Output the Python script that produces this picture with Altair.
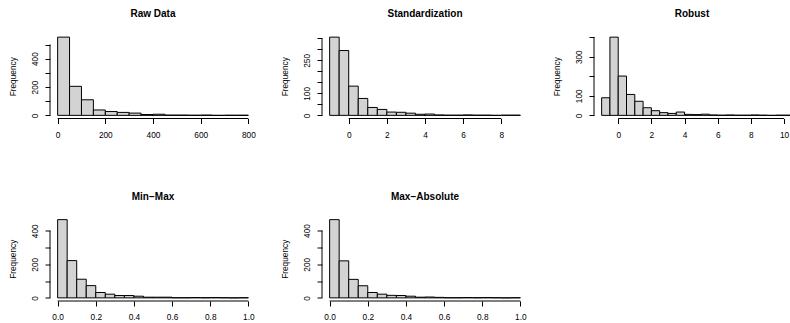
import altair as alt
import pandas as pd

FONT = "Liberation Sans"
W, H = 206, 84.5

titles = ["Raw Data", "Standardization", "Robust", "Min\u2212Max", "Max\u2212Absolute"]

raw_breaks = [0, 50, 100, 150, 200, 250, 300, 350, 400, 450, 500, 550, 600, 650, 700, 750, 800]
raw_counts = [552, 205, 110, 38, 27, 21, 16, 6, 8, 2, 2, 1, 2, 0, 1, 1]

std_breaks = [-1, -0.5, 0, 0.5, 1, 1.5, 2, 2.5, 3, 3.5, 4, 4.5, 5, 5.5, 6, 6.5, 7, 7.5, 8, 8.5, 9]
std_counts = [356, 295, 133, 77, 36, 27, 15, 14, 10, 5, 6, 2, 1, 1, 2, 1, 1, 0, 1, 1]

rob_breaks = [-1, -0.5, 0, 0.5, 1, 1.5, 2, 2.5, 3, 3.5, 4, 4.5, 5, 5.5, 6, 6.5, 7, 7.5, 8, 8.5, 9, 9.5, 10, 10.5]
rob_counts = [90, 400, 201, 107, 72, 39, 24, 14, 10, 17, 5, 4, 6, 2, 1, 2, 1, 1, 2, 1, 0, 1, 1]

mm_breaks = [0, 0.05, 0.1, 0.15, 0.2, 0.25, 0.3, 0.35, 0.4, 0.45, 0.5, 0.55, 0.6, 0.65, 0.7, 0.75, 0.8, 0.85, 0.9, 0.95, 1.0]
mm_counts = [466, 222, 111, 73, 32, 22, 14, 14, 10, 4, 4, 4, 1, 1, 2, 1, 2, 1, 0, 1]

ma_breaks = [0, 0.05, 0.1, 0.15, 0.2, 0.25, 0.3, 0.35, 0.4, 0.45, 0.5, 0.55, 0.6, 0.65, 0.7, 0.75, 0.8, 0.85, 0.9, 0.95, 1.0]
ma_counts = [465, 220, 110, 72, 32, 22, 15, 14, 10, 4, 5, 3, 1, 1, 2, 1, 2, 1, 0, 1]

raw_xticks = [0, 200, 400, 600, 800]
raw_yticks = [0, 100, 200, 300, 400, 500]
raw_ylabels = [0, 200, 400]

std_xticks = [0, 2, 4, 6, 8]
std_yticks = [0, 50, 100, 150, 200, 250, 300, 350]
std_ylabels = [0, 100, 250]

rob_xticks = [0, 2, 4, 6, 8, 10]
rob_yticks = [0, 100, 200, 300, 400]
rob_ylabels = [0, 100, 300]

mm_xticks = [0, 0.2, 0.4, 0.6, 0.8, 1.0]
mm_yticks = [0, 100, 200, 300, 400]
mm_ylabels = [0, 200, 400]


def panel(title, breaks, counts, xticks, yticks, ylabels, xfmt, width=W):
    span = breaks[-1] - breaks[0]
    lo = breaks[0] - 0.04 * span
    hi = breaks[-1] + 0.04 * span
    hi = lo + (hi - lo) * width / W
    ymax = max(counts)
    xs = alt.Scale(domain=[lo, hi], nice=False, zero=False)
    ys = alt.Scale(domain=[-0.04 * ymax, 1.04 * ymax], nice=False, zero=False)
    bars = pd.DataFrame({"x": breaks[:-1], "x2": breaks[1:], "y": counts, "y2": [0] * len(counts)})
    xaxis = alt.Axis(values=xticks, format=xfmt, domain=False, grid=False, ticks=True,
                     tickSize=5, tickColor="black", tickWidth=1,
                     labelFont=FONT, labelFontSize=8.3, labelColor="black", labelPadding=6.6,
                     labelFlush=False, labelOverlap=False, labelBound=False, title=None)
    yaxis = alt.Axis(values=yticks,
                     labelExpr=f"indexof({ylabels}, datum.value) >= 0 ? datum.label : ''",
                     domain=False, grid=False, ticks=True,
                     tickSize=5, tickColor="black", tickWidth=1,
                     labelFont=FONT, labelFontSize=8.3, labelColor="black",
                     labelAngle=-90, labelAlign="center", labelBaseline="bottom", labelPadding=5.2,
                     labelFlush=False, labelOverlap=False, labelBound=False,
                     title="Frequency", titleFont=FONT, titleFontSize=8.3, titleFontWeight="normal",
                     titleColor="black", titleAngle=-90, titleX=-34.7, titleY=H / 2,
                     titleAlign="center", titleBaseline="alphabetic")
    b = alt.Chart(bars).mark_rect(fill="#D3D3D3", stroke="black", strokeWidth=1, clip=True).encode(
        x=alt.X("x:Q", scale=xs, axis=xaxis), x2="x2",
        y=alt.Y("y:Q", scale=ys, axis=yaxis), y2="y2")
    xr = alt.Chart(pd.DataFrame({"x": [xticks[0]], "x2": [xticks[-1]]})).mark_rule(
        color="black", strokeWidth=1).encode(
        x=alt.X("x:Q", scale=xs, axis=xaxis), x2="x2", y=alt.value(H))
    yr = alt.Chart(pd.DataFrame({"y": [yticks[0]], "y2": [yticks[-1]]})).mark_rule(
        color="black", strokeWidth=1).encode(
        y=alt.Y("y:Q", scale=ys, axis=yaxis), y2="y2", x=alt.value(0))
    return alt.layer(b, xr, yr).properties(
        width=width, height=H,
        title=alt.TitleParams(title, font=FONT, fontSize=10, fontWeight="bold", color="black",
                              anchor="middle", frame="group", baseline="alphabetic", offset=7))


p1 = panel(titles[0], raw_breaks, raw_counts, raw_xticks, raw_yticks, raw_ylabels, "d")
p2 = panel(titles[1], std_breaks, std_counts, std_xticks, std_yticks, std_ylabels, "d")
p3 = panel(titles[2], rob_breaks, rob_counts, rob_xticks, rob_yticks, rob_ylabels, "d", width=196)
p4 = panel(titles[3], mm_breaks, mm_counts, mm_xticks, mm_yticks, mm_ylabels, ".1f")
p5 = panel(titles[4], ma_breaks, ma_counts, mm_xticks, mm_yticks, mm_ylabels, ".1f")

chart = alt.concat(p1, p2, p3, p4, p5, columns=3, spacing={"row": 97.5, "column": 66},
                   bounds="flush").properties(
    padding={"left": 8, "top": 9, "right": 0, "bottom": 0},
    background="white",
).configure_view(stroke=None)

chart.save("out.html", embed_options={"renderer": "svg", "actions": False})
